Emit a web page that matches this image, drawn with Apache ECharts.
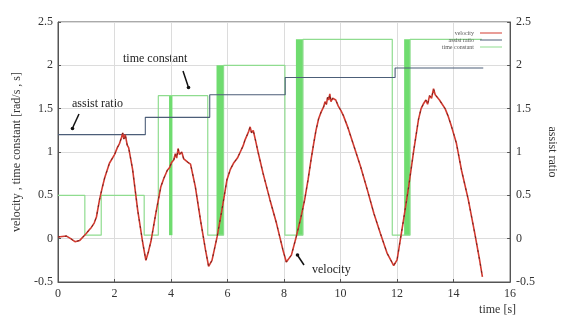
<!DOCTYPE html>
<html>
<head>
<meta charset="utf-8">
<script src="https://cdn.jsdelivr.net/npm/echarts@6/dist/echarts.min.js"></script>
<style>
html,body{margin:0;padding:0;background:#fff;}
#c{width:566px;height:320px;}
</style>
</head>
<body>
<div id="c"></div>
<script>
// ---- data ----
const velocityTime = [0,0.3,0.45,0.6,0.77,1.0,1.1,1.18,1.28,1.36,1.47,1.56,1.65,1.82,2.0,2.1,2.18,2.25,2.29,2.33,2.38,2.45,2.5,2.64,2.82,3.0,3.11,3.2,3.29,3.46,3.64,3.75,3.87,3.95,4.02,4.1,4.15,4.2,4.25,4.3,4.38,4.45,4.51,4.6,4.69,4.86,5.04,5.22,5.33,5.45,5.63,5.8,5.98,6.1,6.21,6.35,6.45,6.55,6.62,6.7,6.75,6.8,6.85,6.91,7.0,7.09,7.26,7.5,7.73,7.96,8.08,8.26,8.43,8.6,8.73,8.85,8.96,9.05,9.13,9.22,9.31,9.4,9.45,9.5,9.54,9.58,9.62,9.66,9.72,9.78,9.83,9.92,10.01,10.1,10.25,10.48,10.71,10.95,11.18,11.41,11.65,11.88,12.0,12.23,12.41,12.59,12.76,12.85,12.94,13.02,13.08,13.15,13.22,13.29,13.35,13.42,13.5,13.58,13.64,13.7,13.8,13.93,14.1,14.28,14.52,14.75,14.92,15.02];
const velocityValue = [0.02,0.03,0.0,-0.035,-0.02,0.06,0.1,0.13,0.18,0.25,0.45,0.58,0.70,0.87,0.97,1.05,1.1,1.17,1.22,1.15,1.2,1.08,1.05,0.8,0.33,-0.05,-0.25,-0.15,-0.03,0.29,0.6,0.7,0.79,0.82,0.88,0.91,0.98,0.93,1.04,0.97,1.0,0.92,0.94,0.88,0.86,0.6,0.22,-0.13,-0.32,-0.25,0.02,0.33,0.68,0.8,0.87,0.93,1.0,1.07,1.14,1.2,1.24,1.29,1.22,1.25,1.12,0.985,0.75,0.45,0.18,-0.13,-0.27,-0.19,0.02,0.25,0.45,0.68,0.92,1.1,1.25,1.38,1.46,1.52,1.58,1.55,1.63,1.6,1.67,1.58,1.62,1.6,1.6,1.53,1.48,1.42,1.29,1.06,0.83,0.56,0.29,0.06,-0.17,-0.31,-0.245,0.22,0.6,1.02,1.38,1.5,1.56,1.6,1.55,1.65,1.62,1.73,1.66,1.68,1.6,1.56,1.58,1.5,1.42,1.29,1.1,0.79,0.45,0.06,-0.245,-0.44];

const assistTime  = [0, 3.09, 5.37, 8.04, 11.93, 15.05];
const assistValue = [1.2, 1.4, 1.66, 1.86, 1.97, 1.97];

const tcTime  = [0, 0.95, 1.53, 3.05, 3.55, 5.3, 5.86, 8.03, 8.67, 11.83, 12.46, 15.0];
const tcValue = [0.5, 0.04, 0.5, 0.04, 1.65, 0.04, 2.0, 0.04, 2.3, 0.04, 2.3, 2.3];

// rapid-switching bands of the time constant: [tStart, tEnd, low, high]
const tcBandStart = [3.93, 5.61, 8.42, 12.25];
const tcBandEnd   = [4.05, 5.86, 8.67, 12.46];
const tcBandLow   = [0.04, 0.04, 0.04, 0.04];
const tcBandHigh  = [1.65, 2.0, 2.3, 2.3];

const xTicks = [0, 2, 4, 6, 8, 10, 12, 14, 16];
const yTicks = [-0.5, 0, 0.5, 1, 1.5, 2, 2.5];
const seriesNames = ['velocity', 'assist ratio', 'time constant'];

// ---- build ----
const zip = (a, b) => a.map((v, i) => [v, b[i]]);
const bands = tcBandStart.map((s, i) => [
  { coord: [s, tcBandLow[i]] },
  { coord: [tcBandEnd[i], tcBandHigh[i]] }
]);

const FONT = '"Liberation Serif", "DejaVu Serif", serif';
const chart = echarts.init(document.getElementById('c'), null, { renderer: 'canvas' });

const axisCommon = {
  axisLine: { show: true, onZero: false, lineStyle: { color: '#555', width: 1 } },
  axisTick: { show: true, inside: true, length: 3, lineStyle: { color: '#555' } },
  splitLine: { show: true, lineStyle: { color: '#dcdcdc', width: 1 } },
  axisLabel: { color: '#333', fontFamily: FONT, fontSize: 12 },
  nameTextStyle: { color: '#333', fontFamily: FONT, fontSize: 12 }
};

chart.setOption({
  animation: false,
  backgroundColor: '#fff',
  grid: { left: 58, right: 52, top: 22, bottom: 38, show: true, borderColor: '#555', borderWidth: 1 },
  legend: {
    data: seriesNames,
    orient: 'vertical',
    right: 59,
    top: 25,
    itemGap: 1,
    itemWidth: 22,
    itemHeight: 1,
    align: 'right',
    icon: 'rect',
    textStyle: { fontSize: 6, color: '#555', fontFamily: FONT, padding: [0, 1, 0, 0] }
  },
  xAxis: Object.assign({}, axisCommon, {
    type: 'value', min: xTicks[0], max: xTicks[xTicks.length - 1], interval: 2,
    name: 'time [s]', nameLocation: 'end', nameGap: 0,
    nameTextStyle: { color: '#333', fontFamily: FONT, fontSize: 12, align: 'right', verticalAlign: 'top', padding: [22, -6, 0, 0] },
    axisLabel: { color: '#333', fontFamily: FONT, fontSize: 12, margin: 6 }
  }),
  yAxis: [
    Object.assign({}, axisCommon, {
      type: 'value', min: yTicks[0], max: yTicks[yTicks.length - 1], interval: 0.5,
      position: 'left',
      name: 'velocity , time constant [rad/s , s]', nameLocation: 'middle', nameGap: 29, nameRotate: 90,
      axisLabel: { color: '#333', fontFamily: FONT, fontSize: 12, margin: 5 }
    }),
    Object.assign({}, axisCommon, {
      type: 'value', min: yTicks[0], max: yTicks[yTicks.length - 1], interval: 0.5,
      position: 'right',
      splitLine: { show: false },
      name: 'assist ratio', nameLocation: 'middle', nameGap: 32, nameRotate: -90,
      axisLabel: { color: '#333', fontFamily: FONT, fontSize: 12, margin: 6 }
    })
  ],
  series: [
    {
      name: 'time constant', type: 'line', step: 'end', yAxisIndex: 0,
      data: zip(tcTime, tcValue), showSymbol: false,
      lineStyle: { color: '#8fdc8f', width: 1.2 }, itemStyle: { color: '#8fdc8f' },
      markArea: { silent: true, itemStyle: { color: '#6fdc6f', opacity: 1 }, data: bands },
      z: 2
    },
    {
      name: 'assist ratio', type: 'line', step: 'end', yAxisIndex: 1,
      data: zip(assistTime, assistValue), showSymbol: false,
      lineStyle: { color: '#4c5e78', width: 1.1 }, itemStyle: { color: '#4c5e78' },
      z: 3
    },
    {
      name: 'velocity', type: 'line', yAxisIndex: 0,
      data: zip(velocityTime, velocityValue), showSymbol: false,
      lineStyle: { color: '#d23a30', width: 1.6 }, itemStyle: { color: '#d23a30' },
      z: 4
    },
    {
      name: 'velocity-dash', type: 'line', yAxisIndex: 0,
      data: zip(velocityTime, velocityValue), showSymbol: false,
      lineStyle: { color: '#6b2420', width: 1, type: [2, 5] },
      z: 5, legendHoverLink: false
    }
  ],
  graphic: [
    { type: 'text', left: 72, top: 98, style: { text: 'assist ratio', font: '12px ' + FONT, fill: '#222' } },
    { type: 'polyline', shape: { points: [[79, 114], [73, 127]] }, style: { stroke: '#111', lineWidth: 1.5 } },
    { type: 'circle', shape: { cx: 72.5, cy: 128.5, r: 1.8 }, style: { fill: '#111' } },
    { type: 'text', left: 123, top: 53, style: { text: 'time constant', font: '12px ' + FONT, fill: '#222' } },
    { type: 'polyline', shape: { points: [[183, 71], [188, 86]] }, style: { stroke: '#111', lineWidth: 1.5 } },
    { type: 'circle', shape: { cx: 188.5, cy: 87.5, r: 1.8 }, style: { fill: '#111' } },
    { type: 'text', left: 312, top: 264, style: { text: 'velocity', font: '12px ' + FONT, fill: '#222' } },
    { type: 'polyline', shape: { points: [[304, 265], [298, 256]] }, style: { stroke: '#111', lineWidth: 1.5 } },
    { type: 'circle', shape: { cx: 297.5, cy: 255, r: 1.8 }, style: { fill: '#111' } }
  ]
});
</script>
</body>
</html>
